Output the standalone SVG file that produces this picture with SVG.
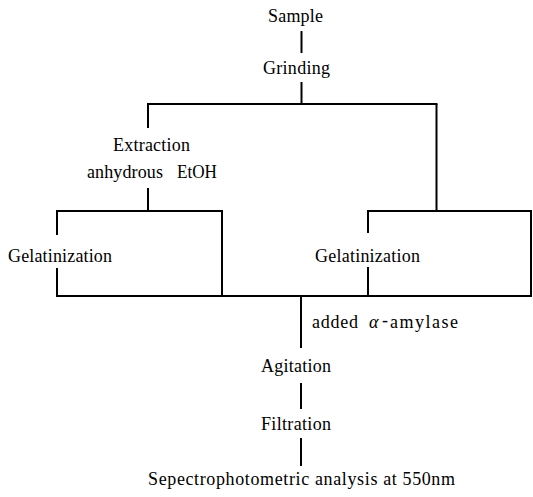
<svg xmlns="http://www.w3.org/2000/svg" width="533" height="497" viewBox="0 0 533 497">
<style>
text{font-family:"Liberation Serif","DejaVu Serif",serif;font-size:18px;fill:#000}
.c{text-anchor:middle}
.ln{stroke:#000;stroke-width:2;fill:none;stroke-linecap:butt}
</style>
<rect width="533" height="497" fill="#fff"/>
<g id="connectors" class="ln">
<path d="M301.5 31V53"/>
<path d="M301.5 82V104"/>
<path d="M147 104H437.5"/>
<path d="M148 104V128"/>
<path d="M436.5 104V212"/>
<path d="M148 188V212"/>
<path d="M56 211H223"/>
<path d="M57 210V235M57 268V297"/>
<path d="M222 210V297"/>
<path d="M367 211H532"/>
<path d="M368 210V233M368 267V297"/>
<path d="M531 210V297"/>
<path d="M56 296H532"/>
<path d="M301 296V348"/>
<path d="M301 383V409"/>
<path d="M301 438V466"/>
</g>
<g id="sample"><text x="295.5" y="22" textLength="55" class="c">Sample</text></g>
<g id="grinding"><text x="296.5" y="74" textLength="67" class="c">Grinding</text></g>
<g id="extraction"><text x="113" y="151" textLength="77">Extraction</text>
<text x="87" y="178" textLength="76">anhydrous</text><text x="177" y="178" textLength="40" lengthAdjust="spacingAndGlyphs">EtOH</text></g>
<g id="gelatinization-left"><text x="8" y="262" textLength="104">Gelatinization</text></g>
<g id="gelatinization-right"><text x="315" y="262" textLength="105">Gelatinization</text></g>
<g id="amylase"><text x="312" y="328" textLength="46">added</text><text x="369" y="328" font-style="italic">α</text><text x="382" y="326" font-size="12">-</text><text x="390" y="328" textLength="68">amylase</text></g>
<g id="agitation"><text x="261" y="372" textLength="70">Agitation</text></g>
<g id="filtration"><text x="261" y="430" textLength="70">Filtration</text></g>
<g id="analysis"><text x="148" y="485" textLength="307">Sepectrophotometric analysis at 550nm</text></g>
</svg>
